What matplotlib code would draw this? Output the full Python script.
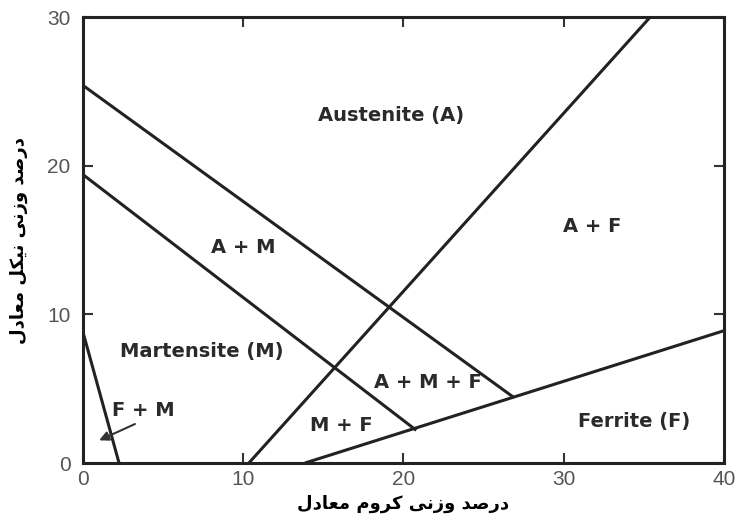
import matplotlib.pyplot as plt

# boundary lines (Cr_eq, Ni_eq) end points
boundaries = [
    ([0, 26.9], [25.4, 4.4]),
    ([0, 20.8], [19.4, 2.2]),
    ([0, 2.25], [8.8, 0]),
    ([10.35, 35.4], [0, 30]),
    ([13.85, 40], [0, 8.9]),
]

regions = ['Austenite (A)', 'A + M', 'A + F', 'Martensite (M)',
           'A + M + F', 'M + F', 'Ferrite (F)', 'F + M']
region_x = [19.2, 10.0, 31.75, 7.4, 21.5, 16.1, 34.4, 3.75]
region_y = [23.4, 14.5, 15.9, 7.5, 5.4, 2.5, 2.8, 3.5]

xticks = [0, 10, 20, 30, 40]
yticks = [0, 10, 20, 30]

xlabel = 'درصد وزنی کروم معادل'
ylabel = 'درصد وزنی نیکل معادل'

# minimal arabic shaping (matplotlib has no bidi / joining)
forms = {
    'ا': ('\uFE8D', '\uFE8E', None, None),
    'د': ('\uFEA9', '\uFEAA', None, None),
    'ر': ('\uFEAD', '\uFEAE', None, None),
    'ز': ('\uFEAF', '\uFEB0', None, None),
    'و': ('\uFEED', '\uFEEE', None, None),
    'ص': ('\uFEB9', '\uFEBA', '\uFEBB', '\uFEBC'),
    'ن': ('\uFEE5', '\uFEE6', '\uFEE7', '\uFEE8'),
    'ی': ('\uFBFC', '\uFBFD', '\uFBFE', '\uFBFF'),
    'ک': ('\uFB8E', '\uFB8F', '\uFB90', '\uFB91'),
    'م': ('\uFEE1', '\uFEE2', '\uFEE3', '\uFEE4'),
    'ع': ('\uFEC9', '\uFECA', '\uFECB', '\uFECC'),
    'ل': ('\uFEDD', '\uFEDE', '\uFEDF', '\uFEE0'),
}


def shape(text):
    out = []
    for word in text.split(' '):
        chars = []
        for i, c in enumerate(word):
            prev_joins = i > 0 and forms[word[i - 1]][2] is not None
            next_joins = forms[c][2] is not None and i < len(word) - 1
            iso, fin, ini, med = forms[c]
            if prev_joins and next_joins:
                chars.append(med)
            elif prev_joins:
                chars.append(fin)
            elif next_joins:
                chars.append(ini)
            else:
                chars.append(iso)
        out.append(''.join(chars))
    return ' '.join(out)[::-1]


fig = plt.figure(figsize=(7.41, 5.27), dpi=100)
ax = fig.add_axes([0.112, 0.1214, 0.865, 0.8463])

for xs, ys in boundaries:
    ax.plot(xs, ys, color='#222222', lw=2.2, solid_capstyle='butt')

for name, x, y in zip(regions, region_x, region_y):
    ax.text(x, y, name, ha='center', va='center', fontsize=14,
            fontweight='bold', family='DejaVu Sans', color='#2a2a2a')

ax.annotate('', xy=(0.85, 1.45), xytext=(3.4, 2.7),
            arrowprops=dict(arrowstyle='-|>', color='#333333', lw=1.5,
                            mutation_scale=14))

ax.set_xlim(0, 40)
ax.set_ylim(0, 30)
ax.set_xticks(xticks)
ax.set_yticks(yticks)
ax.tick_params(direction='in', length=7, width=1.5, top=True, right=True,
               labelsize=15, labelcolor='#555555', color='#333333', pad=5)
ax.tick_params(axis='y', pad=9)
for lab in ax.get_xticklabels() + ax.get_yticklabels():
    lab.set_family('Liberation Sans')
for sp in ax.spines.values():
    sp.set_linewidth(2.2)
    sp.set_color('#222222')

ax.set_xlabel(shape(xlabel), fontsize=13, fontweight='bold',
              family='DejaVu Sans', labelpad=4)
ax.set_ylabel(shape(ylabel), fontsize=13, fontweight='bold',
              family='DejaVu Sans', labelpad=14)

fig.savefig('out.png', dpi=100)
